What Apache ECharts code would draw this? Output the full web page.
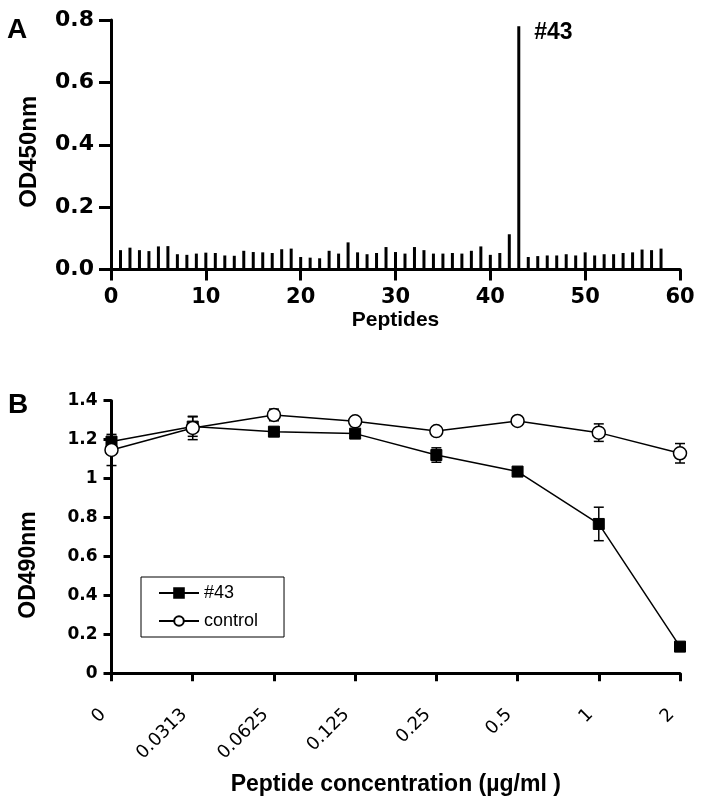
<!DOCTYPE html>
<html>
<head>
<meta charset="utf-8">
<script src="https://cdn.jsdelivr.net/npm/echarts@6/dist/echarts.min.js"></script>
<style>
html,body{margin:0;padding:0;background:#fff;}
#chart{width:702px;height:806px;}
</style>
</head>
<body>
<div id="chart"></div>
<script>
// ---------- Panel A data ----------
const peptideIds = [1,2,3,4,5,6,7,8,9,10,11,12,13,14,15,16,17,18,19,20,21,22,23,24,25,26,27,28,29,30,31,32,33,34,35,36,37,38,39,40,41,42,43,44,45,46,47,48,49,50,51,52,53,54,55,56,57,58];
const od450 = [0.062,0.070,0.062,0.059,0.074,0.075,0.049,0.047,0.051,0.054,0.053,0.045,0.044,0.060,0.056,0.055,0.053,0.065,0.067,0.040,0.038,0.036,0.060,0.051,0.087,0.055,0.049,0.053,0.072,0.056,0.051,0.072,0.062,0.051,0.051,0.053,0.051,0.060,0.074,0.047,0.053,0.113,0.780,0.040,0.043,0.045,0.045,0.049,0.045,0.055,0.045,0.049,0.049,0.053,0.055,0.064,0.062,0.067];
const peakId = 43;
const peakLabel = '#43';
const panelAXTicks = [0,10,20,30,40,50,60];
const panelAYTicks = [0.0,0.2,0.4,0.6,0.8];

// ---------- Panel B data ----------
const concLabels = ['0','0.0313','0.0625','0.125','0.25','0.5','1','2'];
const pep43 = [1.190,1.267,1.241,1.231,1.121,1.036,0.767,0.137];
const pep43Err = [0.020,0.050,0.015,0.015,0.037,0.015,0.086,0.020];
const control = [1.147,1.260,1.327,1.294,1.244,1.296,1.236,1.130];
const controlErr = [0.080,0.060,0.030,0.020,0.020,0.015,0.045,0.050];
const panelBYTicks = [0,0.2,0.4,0.6,0.8,1,1.2,1.4];

const chart = echarts.init(document.getElementById('chart'), null, {renderer:'canvas'});

const WORD = 'Liberation Sans, Arial, sans-serif';
const NUM = 'DejaVu Sans, sans-serif';

const barData = peptideIds.map((id, i) => {
  if (id === peakId) {
    return {
      value: [id, od450[i]],
      label: {
        show: true, formatter: peakLabel, position: [17, -5],
        align: 'left', verticalAlign: 'top',
        fontFamily: WORD, fontWeight: 'bold', fontSize: 23, color: '#000'
      }
    };
  }
  return [id, od450[i]];
});

function errorSeries(name, vals, errs) {
  return {
    type: 'custom',
    name: name + ' err',
    xAxisIndex: 1, yAxisIndex: 1,
    z: 1,
    data: vals.map((v, i) => [i, v, errs[i]]),
    renderItem: function (params, api) {
      const x = api.value(0), v = api.value(1), e = api.value(2);
      const hi = api.coord([x, v + e]);
      const lo = api.coord([x, v - e]);
      const w = 5;
      const style = {stroke: '#000', lineWidth: 1.5};
      return {
        type: 'group',
        children: [
          {type: 'line', shape: {x1: hi[0], y1: hi[1], x2: lo[0], y2: lo[1]}, style: style},
          {type: 'line', shape: {x1: hi[0]-w, y1: hi[1], x2: hi[0]+w, y2: hi[1]}, style: style},
          {type: 'line', shape: {x1: lo[0]-w, y1: lo[1], x2: lo[0]+w, y2: lo[1]}, style: style}
        ]
      };
    }
  };
}

const axisLineStyle = {lineStyle: {color: '#000', width: 3}};

const option = {
  animation: false,
  backgroundColor: '#fff',
  grid: [
    {left: 111, top: 20, width: 569, height: 249.5},
    {left: 111.5, top: 400.7, width: 568.5, height: 272.6}
  ],
  xAxis: [
    {
      gridIndex: 0, type: 'value', min: panelAXTicks[0], max: panelAXTicks[panelAXTicks.length-1],
      interval: panelAXTicks[1] - panelAXTicks[0],
      axisLine: Object.assign({show: true, onZero: false}, axisLineStyle),
      axisTick: {show: true, length: 11, lineStyle: {color: '#000', width: 3}},
      axisLabel: {margin: 18, fontFamily: NUM, fontWeight: 'bold', fontSize: 21, color: '#000'},
      splitLine: {show: false},
      name: 'Peptides', nameLocation: 'middle', nameGap: 40,
      nameTextStyle: {fontFamily: WORD, fontWeight: 'bold', fontSize: 21, color: '#000'}
    },
    {
      gridIndex: 1, type: 'category', data: concLabels, boundaryGap: false,
      axisLine: Object.assign({show: true, onZero: false}, axisLineStyle),
      axisTick: {show: true, alignWithLabel: true, length: 8, lineStyle: {color: '#000', width: 3}},
      axisLabel: {rotate: 45, margin: 30, padding: [0, 12, 0, 0], interval: 0,
        fontFamily: NUM, fontSize: 18, color: '#000'},
      splitLine: {show: false},
      name: 'Peptide concentration (µg/ml )', nameLocation: 'middle', nameGap: 100,
      nameTextStyle: {fontFamily: WORD, fontWeight: 'bold', fontSize: 23, color: '#000'}
    }
  ],
  yAxis: [
    {
      gridIndex: 0, type: 'value', min: panelAYTicks[0], max: panelAYTicks[panelAYTicks.length-1],
      interval: panelAYTicks[1] - panelAYTicks[0],
      axisLine: Object.assign({show: true, onZero: false}, axisLineStyle),
      axisTick: {show: true, length: 12, lineStyle: {color: '#000', width: 3}},
      axisLabel: {margin: 17, fontFamily: NUM, fontWeight: 'bold', fontSize: 22, color: '#000',
        formatter: v => v.toFixed(1)},
      splitLine: {show: false},
      name: 'OD450nm', nameLocation: 'middle', nameGap: 70,
      nameTextStyle: {fontFamily: WORD, fontWeight: 'bold', fontSize: 24, color: '#000', padding: [0, 14, 0, 0]}
    },
    {
      gridIndex: 1, type: 'value', min: panelBYTicks[0], max: panelBYTicks[panelBYTicks.length-1],
      interval: panelBYTicks[1] - panelBYTicks[0],
      axisLine: Object.assign({show: true, onZero: false}, axisLineStyle),
      axisTick: {show: true, length: 8, lineStyle: {color: '#000', width: 3}},
      axisLabel: {margin: 14, fontFamily: NUM, fontWeight: 'bold', fontSize: 17, color: '#000'},
      splitLine: {show: false},
      name: 'OD490nm', nameLocation: 'middle', nameGap: 71,
      nameTextStyle: {fontFamily: WORD, fontWeight: 'bold', fontSize: 23, color: '#000', padding: [0, 56, 0, 0]}
    }
  ],
  legend: {
    left: 141, top: 577, orient: 'vertical',
    data: ['#43', 'control'],
    borderColor: '#000', borderWidth: 1, borderRadius: 0,
    padding: [7, 26, 7, 17],
    itemWidth: 40, itemHeight: 12, itemGap: 10,
    selectedMode: false,
    textStyle: {fontFamily: WORD, fontSize: 18, color: '#000'}
  },
  graphic: [
    {type: 'text', left: 7, top: 16, style: {text: 'A', fontFamily: WORD, fontWeight: 'bold', fontSize: 28, fill: '#000'}},
    {type: 'text', left: 8, top: 391, style: {text: 'B', fontFamily: WORD, fontWeight: 'bold', fontSize: 28, fill: '#000'}}
  ],
  series: [
    {
      type: 'bar', xAxisIndex: 0, yAxisIndex: 0,
      barWidth: 3,
      itemStyle: {color: '#000'},
      data: barData
    },
    errorSeries('#43', pep43, pep43Err),
    errorSeries('control', control, controlErr),
    {
      type: 'line', name: '#43', xAxisIndex: 1, yAxisIndex: 1, z: 3,
      data: pep43,
      symbol: 'rect', symbolSize: 11,
      lineStyle: {color: '#000', width: 1.5},
      itemStyle: {color: '#000', borderColor: '#000', borderWidth: 1}
    },
    {
      type: 'line', name: 'control', xAxisIndex: 1, yAxisIndex: 1, z: 4,
      data: control,
      symbol: 'circle', symbolSize: 13,
      lineStyle: {color: '#000', width: 1.5},
      itemStyle: {color: '#fff', borderColor: '#000', borderWidth: 1.5}
    }
  ]
};
chart.setOption(option);
</script>
</body>
</html>
